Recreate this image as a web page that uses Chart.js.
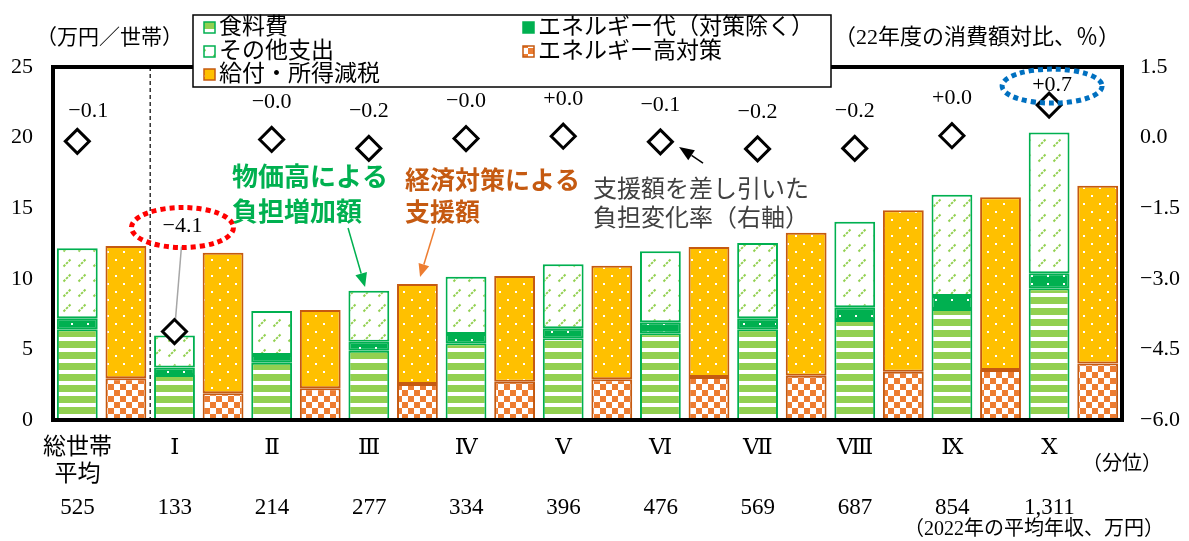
<!DOCTYPE html>
<html lang="ja">
<head>
<meta charset="utf-8">
<title>物価高による負担増加額と経済対策による支援額</title>
<script src="https://cdn.jsdelivr.net/npm/chart.js@4.4.1/dist/chart.umd.min.js"></script>
<style>
  html, body { margin: 0; padding: 0; background: #fff; }
  #wrap { position: relative; width: 1189px; height: 541px; }
</style>
</head>
<body>
<div id="wrap"><canvas id="chart"></canvas></div>
<script>
// ---- data (万円/世帯, 右軸は%) ----
const categories = [['総世帯', '平均'], 'Ⅰ', 'Ⅱ', 'Ⅲ', 'Ⅳ', 'Ⅴ', 'Ⅵ', 'Ⅶ', 'Ⅷ', 'Ⅸ', 'Ⅹ'];
const incomes = ['525', '133', '214', '277', '334', '396', '476', '569', '687', '854', '1,311'];

// 物価高による負担増加額の内訳
const food   = [6.42, 3.19, 4.06, 4.91, 5.43, 5.79, 6.14, 6.42, 7.08, 7.86, 9.33];
const energy = [0.78, 0.52, 0.54, 0.64, 0.66, 0.71, 0.78, 0.78, 0.90, 0.92, 1.06];
const other  = [4.96, 2.27, 3.12, 3.61, 4.06, 4.53, 5.03, 5.34, 6.06, 7.18, 9.98];

// 経済対策による支援額の内訳
const energyMeasures = [2.95, 1.89, 2.24, 2.55, 2.71, 2.88, 3.05, 3.14, 3.42, 3.54, 4.01];
const benefits       = [9.37, 9.96, 5.55, 7.08, 7.49, 8.05, 9.20, 10.13, 11.43, 12.23, 12.58];

// 支援額を差し引いた負担変化率（22年度の消費額対比、%）
const burdenChange = [-0.08, -4.12, -0.04, -0.23, -0.02, 0.03, -0.09, -0.24, -0.23, 0.04, 0.69];

// ---- styling ----
const SERIF = '"Liberation Serif", "DejaVu Serif", "Noto Sans CJK JP", serif';
const GOTHIC = '"Noto Sans CJK JP", "Noto Sans", sans-serif';
const GREEN = '#00B050', LIGHT_GREEN = '#92D050', ORANGE = '#ED7D31', DARK_ORANGE = '#C55A11', GOLD = '#FFC000';
const CAT_PCT = 1.0, BAR_PCT = 0.84;
const SLOT_SHIFT = CAT_PCT / 4;   // the two bars of a category sit a quarter category left / right of its centre

const canvas = document.getElementById('chart');
const ctx0 = canvas.getContext('2d');

function makePattern(w, h, paint) {
  const c = document.createElement('canvas');
  c.width = w; c.height = h;
  paint(c.getContext('2d'), w, h);
  return ctx0.createPattern(c, 'repeat');
}

const foodFill = makePattern(4, 11, (g, w, h) => {
  g.fillStyle = '#fff'; g.fillRect(0, 0, w, h);
  g.fillStyle = LIGHT_GREEN; g.fillRect(0, 0, w, 7);
});
const energyFill = makePattern(16, 8, (g, w, h) => {
  g.fillStyle = GREEN; g.fillRect(0, 0, w, h);
  g.fillStyle = '#fff'; g.fillRect(7, 3, 2, 2);
});
const otherFill = makePattern(15, 15, (g, w, h) => {
  g.fillStyle = '#fff'; g.fillRect(0, 0, w, h);
  g.strokeStyle = LIGHT_GREEN; g.lineWidth = 2; g.setLineDash([2.5, 1.2]);
  g.beginPath(); g.moveTo(3.5, 11.5); g.lineTo(10.5, 4.5); g.stroke();
});
const measuresFill = makePattern(12, 12, (g, w, h) => {
  g.fillStyle = '#fff'; g.fillRect(0, 0, w, h);
  g.fillStyle = ORANGE; g.fillRect(0, 0, 6, 6); g.fillRect(6, 6, 6, 6);
});
const benefitsFill = makePattern(16, 16, (g, w, h) => {
  g.fillStyle = GOLD; g.fillRect(0, 0, w, h);
  g.fillStyle = '#fff'; g.fillRect(3, 3, 2, 2); g.fillRect(11, 11, 2, 2);
});

// side: -1 = left bar of the category, +1 = right bar
function barSet(label, values, stack, side, fill, border) {
  return {
    type: 'bar', label, stack,
    data: values.map((v, i) => ({ x: i + side * SLOT_SHIFT, y: v })),
    backgroundColor: fill, borderColor: border, borderWidth: 2, borderSkipped: false,
    grouped: false, categoryPercentage: CAT_PCT, barPercentage: BAR_PCT,
    xAxisID: 'xPos', yAxisID: 'y', order: 2
  };
}

const fmtChange = v => (v >= 0 ? '+' : '−') + Math.abs(v).toFixed(1);

// where each change label sits relative to its diamond
const labelPlacement = {
  base: { dx: 0, dy: -37 },
  0: { dx: 11, dy: -30 },
  1: { dx: 8, dy: -105, ring: '#FF0000', rx: 51, ry: 20, leader: '#A6A6A6' },
  10: { dx: 3, dy: -20, ring: '#0070C0', rx: 50, ry: 17 }
};

// callouts, anchored in (category index, 万円) units
const callouts = [
  { lines: ['物価高による', '負担増加額'], at: [1.342, 17.28], step: 35, color: GREEN, font: 'bold 26px ' + GOTHIC },
  { lines: ['経済対策による', '支援額'], at: [3.122, 17.0], step: 32, color: DARK_ORANGE, font: 'bold 25px ' + GOTHIC },
  { lines: ['支援額を差し引いた', '負担変化率（右軸）'], at: [5.057, 16.43], step: 29, color: '#404040', font: '24px ' + GOTHIC }
];
const pointers = [
  { from: [2.536, 13.6], to: [2.711, 9.42], color: GREEN, head: [14, 12] },
  { from: [3.431, 13.6], to: [3.277, 10.13], color: ORANGE, head: [13, 11] },
  { from: [6.189, 18.2], to: [5.942, 19.33], color: '#000', head: [15, 12] }
];

function drawArrow(ctx, x1, y1, x2, y2, color, len, wid) {
  const a = Math.atan2(y2 - y1, x2 - x1);
  const bx = x2 - len * Math.cos(a), by = y2 - len * Math.sin(a);
  ctx.save();
  ctx.strokeStyle = color; ctx.fillStyle = color; ctx.lineWidth = 1.5;
  ctx.beginPath(); ctx.moveTo(x1, y1); ctx.lineTo(bx, by); ctx.stroke();
  ctx.beginPath();
  ctx.moveTo(x2, y2);
  ctx.lineTo(bx + wid / 2 * Math.sin(a), by - wid / 2 * Math.cos(a));
  ctx.lineTo(bx - wid / 2 * Math.sin(a), by + wid / 2 * Math.cos(a));
  ctx.closePath(); ctx.fill();
  ctx.restore();
}

const POINT_DATASET = 5;
function labelPos(chart, i) {
  const pt = chart.getDatasetMeta(POINT_DATASET).data[i];
  const p = Object.assign({}, labelPlacement.base, labelPlacement[i] || {});
  return { x: pt.x + p.dx, y: pt.y + p.dy, p, pt };
}

const overlay = {
  id: 'overlay',
  beforeDatasetsDraw(chart) {
    const { ctx, chartArea: ca, scales } = chart;
    // separator between the all-household average and the deciles
    const sx = (scales.x.getPixelForValue(0) + scales.x.getPixelForValue(1)) / 2;
    ctx.save();
    ctx.strokeStyle = '#000'; ctx.lineWidth = 1.2; ctx.setLineDash([4, 3]);
    ctx.beginPath(); ctx.moveTo(sx, ca.top); ctx.lineTo(sx, ca.bottom); ctx.stroke();
    ctx.restore();
    // leader from the ringed label to its diamond
    burdenChange.forEach((v, i) => {
      const { x, y, p, pt } = labelPos(chart, i);
      if (!p.leader) return;
      ctx.save();
      ctx.strokeStyle = p.leader; ctx.lineWidth = 1.5;
      ctx.beginPath(); ctx.moveTo(x - 1, y + p.ry); ctx.lineTo(pt.x, pt.y); ctx.stroke();
      ctx.restore();
    });
  },
  afterDatasetsDraw(chart) {
    const { ctx, chartArea: ca, scales } = chart;
    // plot frame
    ctx.save();
    ctx.strokeStyle = '#000'; ctx.lineWidth = 4;
    ctx.strokeRect(ca.left, ca.top, ca.right - ca.left, ca.bottom - ca.top);
    ctx.restore();

    // change labels above the diamonds
    ctx.save();
    ctx.font = '22px ' + SERIF; ctx.fillStyle = '#000';
    ctx.textAlign = 'center'; ctx.textBaseline = 'middle';
    burdenChange.forEach((v, i) => {
      const { x, y, p } = labelPos(chart, i);
      ctx.fillText(fmtChange(v), x, y);
      if (p.ring) {
        ctx.save();
        ctx.strokeStyle = p.ring; ctx.lineWidth = 5; ctx.setLineDash([5, 4]);
        ctx.beginPath(); ctx.ellipse(x, y + 1, p.rx, p.ry, 0, 0, Math.PI * 2); ctx.stroke();
        ctx.restore();
      }
    });
    ctx.restore();

    // callout texts and arrows
    const px = v => scales.xPos.getPixelForValue(v);
    const py = v => scales.y.getPixelForValue(v);
    callouts.forEach(c => {
      ctx.save();
      ctx.font = c.font; ctx.fillStyle = c.color;
      ctx.textAlign = 'left'; ctx.textBaseline = 'middle';
      c.lines.forEach((t, k) => ctx.fillText(t, px(c.at[0]), py(c.at[1]) + k * c.step));
      ctx.restore();
    });
    pointers.forEach(a => drawArrow(ctx, px(a.from[0]), py(a.from[1]), px(a.to[0]), py(a.to[1]), a.color, a.head[0], a.head[1]));
  },
  afterDraw(chart) {
    const { ctx } = chart;
    // axis titles and notes
    ctx.save();
    ctx.fillStyle = '#000'; ctx.textBaseline = 'middle';
    ctx.font = '21px ' + SERIF;
    ctx.textAlign = 'left';
    ctx.fillText('（万円／世帯）', 36, 38);
    ctx.font = '22px ' + SERIF;
    ctx.fillText('（22年度の消費額対比、％）', 834, 38);
    ctx.font = '20px ' + SERIF;
    ctx.textAlign = 'center';
    ctx.fillText('（分位）', 1122, 465);
    ctx.textAlign = 'right';
    ctx.fillText('（2022年の平均年収、万円）', 1164, 530);
    ctx.restore();

    // legend box
    const box = { x: 193, y: 15, w: 638, h: 72 };
    const columns = [{ x: 204, items: [0, 2, 4] }, { x: 523, items: [1, 3] }];
    const rows = [28, 52, 75];
    ctx.save();
    ctx.fillStyle = '#fff'; ctx.fillRect(box.x, box.y, box.w, box.h);
    ctx.strokeStyle = '#000'; ctx.lineWidth = 1.5; ctx.strokeRect(box.x, box.y, box.w, box.h);
    ctx.font = '23px ' + SERIF; ctx.textAlign = 'left'; ctx.textBaseline = 'middle';
    columns.forEach(col => {
      col.items.forEach((di, r) => {
        const ds = chart.data.datasets[di];
        const y = rows[r];
        ctx.fillStyle = ds.backgroundColor; ctx.fillRect(col.x, y - 6, 11, 11);
        ctx.strokeStyle = ds.borderColor; ctx.lineWidth = 1.5; ctx.strokeRect(col.x, y - 6, 11, 11);
        ctx.fillStyle = '#000';
        ctx.fillText(ds.label, col.x + 15, y);
      });
    });
    ctx.restore();
  }
};

const axisTickFont = { family: SERIF, size: 22 };
const hiddenGrid = { display: false, drawTicks: false, offset: false };

new Chart(canvas, {
  data: {
    labels: categories,
    datasets: [
      barSet('食料費', food, 'burden', -1, foodFill, GREEN),
      barSet('エネルギー代（対策除く）', energy, 'burden', -1, energyFill, GREEN),
      barSet('その他支出', other, 'burden', -1, otherFill, GREEN),
      barSet('エネルギー高対策', energyMeasures, 'support', 1, measuresFill, DARK_ORANGE),
      barSet('給付・所得減税', benefits, 'support', 1, benefitsFill, DARK_ORANGE),
      {
        type: 'line', label: '支援額を差し引いた負担変化率',
        data: burdenChange.map((v, i) => ({ x: i - SLOT_SHIFT, y: v })),
        xAxisID: 'xPos', yAxisID: 'y2', showLine: false, order: 0,
        pointStyle: 'rectRot', pointRadius: 12, pointBorderWidth: 3,
        pointBackgroundColor: '#fff', pointBorderColor: '#000'
      }
    ]
  },
  options: {
    responsive: true,
    maintainAspectRatio: false,
    animation: false,
    events: [],
    layout: { padding: { top: 67, left: 0, right: 0, bottom: 0 } },
    plugins: { legend: { display: false }, title: { display: false }, tooltip: { enabled: false } },
    scales: {
      x: {
        type: 'category', position: 'bottom', offset: true, weight: 0,
        grid: hiddenGrid, border: { display: false },
        ticks: { autoSkip: false, maxRotation: 0, padding: 15, labelOffset: -24, color: '#000',
                 font: { family: SERIF, size: 23, lineHeight: 1.15 } },
        afterFit: s => { s.height = 70; }
      },
      xIncome: {
        type: 'category', position: 'bottom', labels: incomes, offset: true, weight: 1,
        grid: hiddenGrid, border: { display: false },
        ticks: { autoSkip: false, maxRotation: 0, padding: 5, labelOffset: -24, color: '#000',
                 font: { family: SERIF, size: 23, lineHeight: 1.15 } },
        afterFit: s => { s.height = 51; }
      },
      // continuous category position (index units) shared by the bars and diamonds
      xPos: { type: 'linear', display: false, offset: false, min: -0.5, max: 10.5,
              grid: hiddenGrid, ticks: { stepSize: 1 } },
      y: {
        position: 'left', stacked: true, min: 0, max: 25,
        grid: hiddenGrid, border: { display: false },
        ticks: { stepSize: 5, padding: 20, color: '#000', font: axisTickFont },
        afterFit: s => { s.width = 53; }
      },
      y2: {
        position: 'right', min: -6, max: 1.5,
        grid: hiddenGrid, border: { display: false },
        ticks: { stepSize: 1.5, padding: 18, color: '#000', font: axisTickFont,
                 callback: v => v.toFixed(1).replace('-', '−') },
        afterFit: s => { s.width = 67; }
      }
    }
  },
  plugins: [overlay]
});
</script>
</body>
</html>
